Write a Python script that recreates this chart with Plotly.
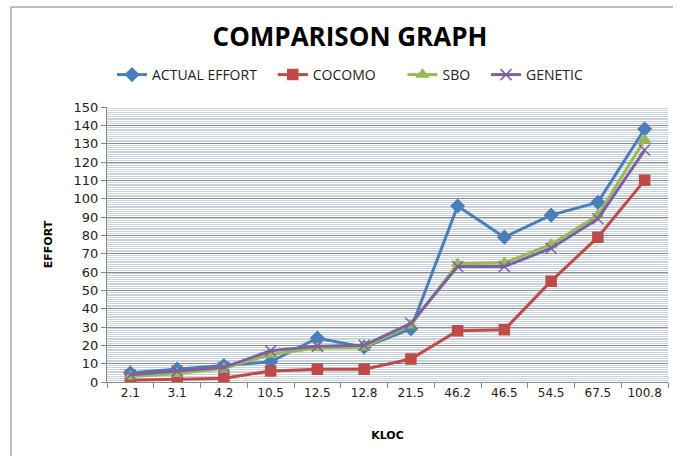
import plotly.graph_objects as go

kloc = ["2.1", "3.1", "4.2", "10.5", "12.5", "12.8", "21.5", "46.2", "46.5", "54.5", "67.5", "100.8"]
actual_effort = [5, 7, 9, 11, 24, 19, 29, 96, 79, 91, 98, 138]
cocomo = [1, 1.5, 2, 6, 7, 7, 12.5, 28, 28.5, 55, 79, 110]
sbo = [3, 4.5, 7.5, 15, 18.5, 19, 31, 64.5, 65, 75, 91, 132]
genetic = [4, 6, 8, 17, 19.5, 20, 32, 63, 63, 73, 89, 126.5]

NB = "\u00a0"
series = [
    ("ACTUAL EFFORT", actual_effort, "#4a7ebb", "diamond", 3),
    ("COCOMO", cocomo, "#be4b48", "square", 6),
    ("SBO", sbo, "#98b954", "triangle-up", 3),
    ("GENETIC", genetic, "#7d60a0", "x-thin-open", 0),
]

fig = go.Figure()
for name, vals, color, sym, pad in series:
    fig.add_trace(go.Scatter(
        x=kloc, y=vals, name=name + NB * pad, mode="lines+markers",
        line=dict(color=color, width=3),
        marker=dict(symbol=sym, size=10 if sym != "x-thin-open" else 11, color=color,
                    line=dict(color=color, width=1.5)),
    ))

L, R, T, B = 107, 8, 107, 74
W, H = 676, 456
pw, ph = W - L - R, H - T - B

def px(x):
    return (x - L) / pw

def py(y):
    return (H - B - y) / ph

fig.update_layout(
    width=W, height=H,
    margin=dict(l=L, r=R, t=T, b=B),
    paper_bgcolor="white", plot_bgcolor="white",
    font=dict(family="Open Sans", color="#222"),
    title=dict(text="<b>COMPARISON GRAPH</b>", x=350 / W, xanchor="center",
               y=1 - 37 / H, yanchor="middle", font=dict(size=26, color="#000")),
    legend=dict(orientation="h", x=px(350), xanchor="center", y=py(75), yanchor="middle",
                font=dict(size=14, color="#222"), itemwidth=30, tracegroupgap=0),
    showlegend=True,
    xaxis=dict(type="category", range=[-0.5, len(kloc) - 0.5],
               showgrid=False, showline=True, linecolor="#888",
               ticks="outside", ticklen=5, tickcolor="#888", tickson="boundaries",
               tickangle=0, automargin=False,
               tickfont=dict(family="DejaVu Sans", size=12, color="#222"),
               title=dict(text="<b>KLOC</b>", font=dict(family="DejaVu Sans", size=11, color="#000"),
                          standoff=31)),
    yaxis=dict(range=[0, 150], dtick=10, showgrid=True, gridcolor="#8c8c8c", gridwidth=1,
               showline=True, linecolor="#888", ticks="outside", ticklen=5, tickcolor="#888",
               automargin=False,
               tickfont=dict(family="DejaVu Sans", size=13, color="#222"), zeroline=False,
               minor=dict(dtick=1, showgrid=True, gridcolor="#c9d3de", gridwidth=1),
               title=dict(text="<b>EFFORT</b>", font=dict(family="DejaVu Sans", size=11, color="#000"),
                          standoff=18)),
    shapes=[
        dict(type="line", xref="paper", yref="paper", x0=px(11), x1=px(673), y0=py(7), y1=py(7),
             line=dict(color="#aaa", width=1.5)),
        dict(type="line", xref="paper", yref="paper", x0=px(11), x1=px(11), y0=py(7), y1=py(456),
             line=dict(color="#aaa", width=1.5)),
    ],
)

fig.write_html("out.html", config={"displayModeBar": False},
               post_script="document.body.style.margin='0';document.body.style.overflow='hidden';")
